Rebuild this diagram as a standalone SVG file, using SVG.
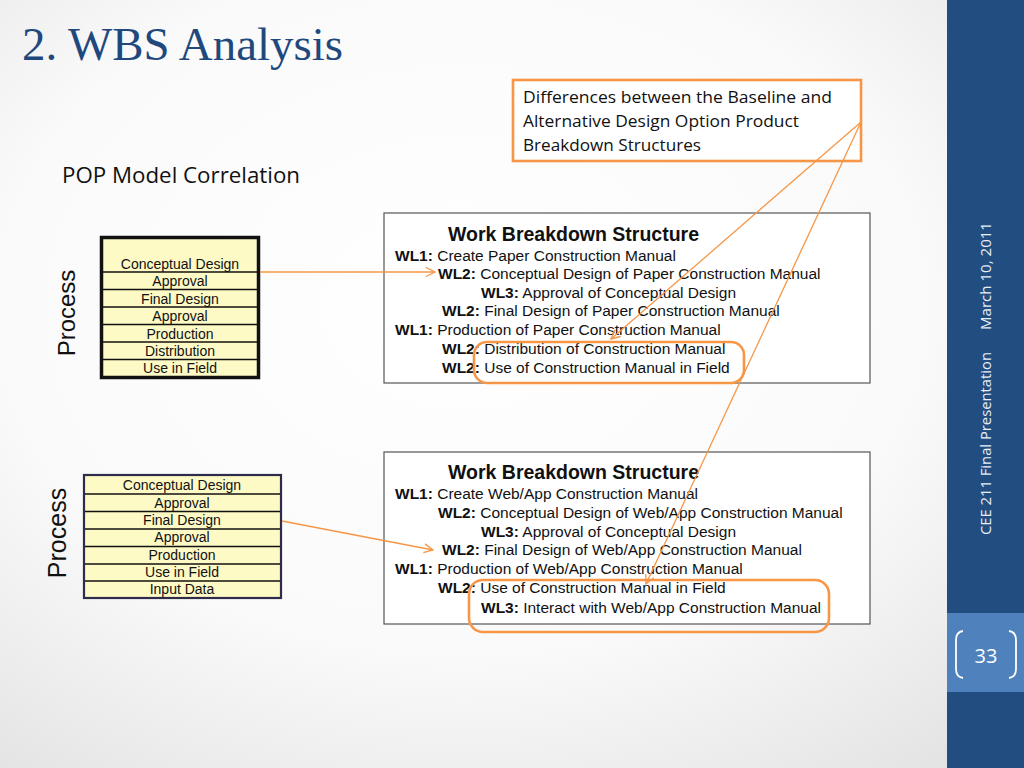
<svg xmlns="http://www.w3.org/2000/svg" width="1024" height="768" viewBox="0 0 1024 768">
<defs>
<radialGradient id="bg" cx="0.45" cy="0.4" r="0.75">
<stop offset="0" stop-color="#ffffff"/>
<stop offset="0.6" stop-color="#fafafa"/>
<stop offset="1" stop-color="#e4e4e4"/>
</radialGradient>
<marker id="ah" markerWidth="12" markerHeight="12" refX="10" refY="5" orient="auto" markerUnits="userSpaceOnUse">
<path d="M1,0.5 L10,5 L1,9.5" fill="none" stroke="#F79646" stroke-width="1.3"/>
</marker>
<style>
.tb{fill:#FDFAC6;}
.tt{font-family:"Liberation Sans",Arial,sans-serif;font-size:14px;fill:#111;text-anchor:middle;}
.wbs{font-family:"Liberation Sans",Arial,sans-serif;font-size:15.5px;fill:#111;}
.wbs tspan.b{font-weight:bold;}
.wt{font-family:"Liberation Sans",Arial,sans-serif;font-size:19.5px;font-weight:bold;fill:#111;text-anchor:middle;}
.box{fill:#fff;stroke:#555;stroke-width:1.2;}
.hl{fill:none;stroke:#F79646;stroke-width:2.6;}
.con{fill:none;stroke:#F79646;stroke-width:1.3;}
.proc{font-family:"Liberation Sans",Arial,sans-serif;fill:#111;text-anchor:middle;}
.side{font-family:"Open Sans","Liberation Sans",sans-serif;font-size:14.5px;fill:#e8eef6;text-anchor:middle;}
.cal{font-family:"Open Sans","Liberation Sans",sans-serif;fill:#111;}
</style>
</defs>
<rect x="0" y="0" width="1024" height="768" fill="url(#bg)"/>
<g id="sidebar">
<rect x="947" y="0" width="77" height="768" fill="#214D80"/>
<rect x="947" y="613" width="77" height="79" fill="#4F81BD"/>
<path d="M963,631 Q956,632 956,640 L956,669 Q956,677 963,678" fill="none" stroke="#fff" stroke-width="1.8"/>
<path d="M1009,631 Q1016,632 1016,640 L1016,669 Q1016,677 1009,678" fill="none" stroke="#fff" stroke-width="1.8"/>
<text x="986" y="663" font-family="Open Sans,Liberation Sans,sans-serif" font-size="20" fill="#fff" text-anchor="middle">33</text>
<text class="side" transform="translate(991,276) rotate(-90)" textLength="108" lengthAdjust="spacingAndGlyphs">March 10, 2011</text>
<text class="side" transform="translate(991,443.5) rotate(-90)" textLength="183" lengthAdjust="spacingAndGlyphs">CEE 211 Final Presentation</text>
</g>
<text x="22" y="60" font-family="Liberation Serif,serif" font-size="46" fill="#1F497D" textLength="321" lengthAdjust="spacingAndGlyphs">2. WBS Analysis</text>
<text class="cal" x="62" y="183" font-size="21" textLength="238" lengthAdjust="spacingAndGlyphs">POP Model Correlation</text>
<g id="callout">
<rect x="513" y="80" width="348" height="81" fill="#fff" stroke="#F79646" stroke-width="2.6"/>
<text class="cal" x="523" y="103" font-size="15.5" textLength="309" lengthAdjust="spacingAndGlyphs">Differences between the  Baseline and</text>
<text class="cal" x="523" y="127" font-size="15.5" textLength="276" lengthAdjust="spacingAndGlyphs">Alternative Design Option Product</text>
<text class="cal" x="523" y="151" font-size="15.5" textLength="178" lengthAdjust="spacingAndGlyphs">Breakdown Structures</text>
</g>
<g id="process-top">
<text class="proc" font-size="24" transform="translate(75,313) rotate(-90)">Process</text>
<rect x="101.5" y="237.5" width="157" height="140" class="tb" stroke="#111" stroke-width="3.5"/>
<g stroke="#111" stroke-width="1.3">
<line x1="103" y1="272" x2="257" y2="272"/>
<line x1="103" y1="289.5" x2="257" y2="289.5"/>
<line x1="103" y1="307" x2="257" y2="307"/>
<line x1="103" y1="324.5" x2="257" y2="324.5"/>
<line x1="103" y1="342" x2="257" y2="342"/>
<line x1="103" y1="359.5" x2="257" y2="359.5"/>
</g>
<text class="tt" x="180" y="268.5">Conceptual Design</text>
<text class="tt" x="180" y="286">Approval</text>
<text class="tt" x="180" y="303.5">Final Design</text>
<text class="tt" x="180" y="321">Approval</text>
<text class="tt" x="180" y="338.5">Production</text>
<text class="tt" x="180" y="356">Distribution</text>
<text class="tt" x="180" y="373">Use in Field</text>
</g>
<g id="process-bottom">
<text class="proc" font-size="25" transform="translate(66,533) rotate(-90)">Process</text>
<rect x="84" y="475" width="197" height="123" class="tb" stroke="#2F2B4A" stroke-width="2.2"/>
<g stroke="#111" stroke-width="1.3">
<line x1="85" y1="494" x2="280" y2="494"/>
<line x1="85" y1="511.5" x2="280" y2="511.5"/>
<line x1="85" y1="529" x2="280" y2="529"/>
<line x1="85" y1="546.5" x2="280" y2="546.5"/>
<line x1="85" y1="564" x2="280" y2="564"/>
<line x1="85" y1="581" x2="280" y2="581"/>
</g>
<text class="tt" x="182" y="490">Conceptual Design</text>
<text class="tt" x="182" y="507.5">Approval</text>
<text class="tt" x="182" y="525">Final Design</text>
<text class="tt" x="182" y="542">Approval</text>
<text class="tt" x="182" y="559.5">Production</text>
<text class="tt" x="182" y="576.5">Use in Field</text>
<text class="tt" x="182" y="594">Input Data</text>
</g>
<g id="wbs-top">
<rect class="box" x="384" y="213" width="486" height="170"/>
<text class="wt" x="573.5" y="241">Work Breakdown Structure</text>
<text class="wbs" x="395" y="261"><tspan class="b">WL1:</tspan> Create Paper Construction Manual</text>
<text class="wbs" x="438" y="279"><tspan class="b">WL2:</tspan> Conceptual Design of Paper Construction Manual</text>
<text class="wbs" x="481" y="298"><tspan class="b">WL3:</tspan> Approval of Conceptual Design</text>
<text class="wbs" x="442" y="316"><tspan class="b">WL2:</tspan> Final Design of Paper Construction Manual</text>
<text class="wbs" x="395" y="335"><tspan class="b">WL1:</tspan> Production of Paper Construction Manual</text>
<text class="wbs" x="442" y="354"><tspan class="b">WL2:</tspan> Distribution of Construction Manual</text>
<text class="wbs" x="442" y="373"><tspan class="b">WL2:</tspan> Use of Construction Manual in Field</text>
</g>
<g id="wbs-bottom">
<rect class="box" x="384" y="452" width="486" height="172"/>
<text class="wt" x="573.5" y="479">Work Breakdown Structure</text>
<text class="wbs" x="395" y="499"><tspan class="b">WL1:</tspan> Create Web/App Construction Manual</text>
<text class="wbs" x="438" y="518"><tspan class="b">WL2:</tspan> Conceptual Design of Web/App Construction Manual</text>
<text class="wbs" x="481" y="537"><tspan class="b">WL3:</tspan> Approval of Conceptual Design</text>
<text class="wbs" x="442" y="555"><tspan class="b">WL2:</tspan> Final Design of Web/App Construction Manual</text>
<text class="wbs" x="395" y="574"><tspan class="b">WL1:</tspan> Production of Web/App Construction Manual</text>
<text class="wbs" x="438" y="593"><tspan class="b">WL2:</tspan> Use of Construction Manual in Field</text>
<text class="wbs" x="481" y="613"><tspan class="b">WL3:</tspan> Interact with Web/App Construction Manual</text>
</g>
<g id="highlights">
<rect class="hl" x="474" y="342" width="270" height="41" rx="13"/>
<rect class="hl" x="469" y="580" width="360" height="52" rx="14"/>
</g>
<g id="connectors">
<line class="con" x1="260" y1="272" x2="435" y2="272" marker-end="url(#ah)"/>
<line class="con" x1="282" y1="521" x2="433" y2="550" marker-end="url(#ah)"/>
<line class="con" x1="861" y1="122" x2="611" y2="339" marker-end="url(#ah)"/>
<line class="con" x1="861" y1="122" x2="646" y2="584" marker-end="url(#ah)"/>
</g>
</svg>
